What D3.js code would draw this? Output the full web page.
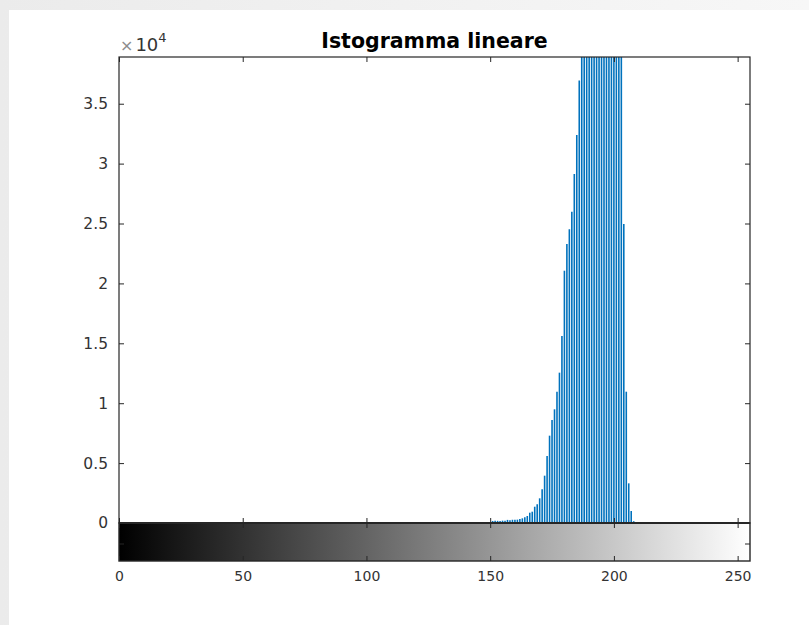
<!DOCTYPE html>
<html>
<head>
<meta charset="utf-8">
<script src="https://cdn.jsdelivr.net/npm/d3@7"></script>
<style>
  html, body { margin: 0; padding: 0; background: #fff; }
  svg { display: block; }
</style>
</head>
<body>
<svg id="chart" width="809" height="625"></svg>
<script>
// Gray-level histogram (uint8 image, 256 bins); only bins 150..208 are non-empty.
const grayLevels = d3.range(150, 209);
const pixelCounts = [
  60, 170, 190, 180, 175, 195, 185, 260, 230, 270,
  265, 280, 334, 390, 470, 584, 860, 945, 1360, 1558,
  2060, 2810, 3950, 5590, 7290, 8600, 9490, 10960, 12550, 15610,
  21060, 23290, 24520, 25990, 29130, 32390, 36930, 41500, 45800, 49600,
  52800, 55400, 57300, 58600, 59200, 59000, 58100, 56400, 54000, 51200,
  48300, 45600, 43100, 40200, 24960, 10960, 3310, 1000, 150
];
const yTicks = [0, 5000, 10000, 15000, 20000, 25000, 30000, 35000];
const xTicks = [0, 50, 100, 150, 200, 250];
const titleText = "Istogramma lineare";

const svg = d3.select("#chart");
const W = 809, H = 625;
const font = "'DejaVu Sans', sans-serif";
const axisColor = "#262626";

// figure window background
const defs = svg.append("defs");
const bg = defs.append("linearGradient").attr("id", "bg").attr("x1", 0).attr("x2", 1).attr("y1", 0).attr("y2", 0);
bg.append("stop").attr("offset", "0%").attr("stop-color", "#ebebeb");
bg.append("stop").attr("offset", "100%").attr("stop-color", "#f7f7f7");
svg.append("rect").attr("width", W).attr("height", H).attr("fill", "url(#bg)");
svg.append("rect").attr("x", 9).attr("y", 10).attr("width", W - 9).attr("height", H - 10).attr("fill", "#fff");

const plot = { left: 119, right: 750, top: 57, bottom: 523 };
const bar = { top: 523, bottom: 561 };

const x = d3.scaleLinear().domain([0, 255]).range([plot.left, plot.right]);
const y = d3.scaleLinear().domain([0, 38900]).range([plot.bottom, plot.top]);

// clip for the stems
defs.append("clipPath").attr("id", "plotClip")
  .append("rect")
  .attr("x", plot.left).attr("y", plot.top)
  .attr("width", plot.right - plot.left).attr("height", plot.bottom - plot.top);

// stems
svg.append("g").attr("clip-path", "url(#plotClip)")
  .selectAll("line")
  .data(grayLevels.map((g, i) => ({ g, c: pixelCounts[i] })))
  .join("line")
  .attr("x1", d => x(d.g)).attr("x2", d => x(d.g))
  .attr("y1", y(0)).attr("y2", d => y(d.c))
  .attr("stroke", "#0072BD")
  .attr("stroke-width", 1.6);

// y axis (left, ticks inward)
const yAxisL = svg.append("g")
  .attr("transform", `translate(${plot.left},0)`)
  .call(d3.axisLeft(y).tickValues(yTicks).tickFormat(d => d3.format("~g")(d / 1e4)).tickSize(-5).tickPadding(11));
yAxisL.select(".domain").remove();
yAxisL.selectAll("line").attr("stroke", axisColor);
yAxisL.selectAll("text").attr("fill", "#333").style("font-family", font).style("font-size", "15.5px");

// y ticks on the right side
const yAxisR = svg.append("g")
  .attr("transform", `translate(${plot.right},0)`)
  .call(d3.axisRight(y).tickValues(yTicks).tickFormat("").tickSize(-5));
yAxisR.select(".domain").remove();
yAxisR.selectAll("line").attr("stroke", axisColor);

// x ticks at top and bottom of the plot (no labels)
const xTop = svg.append("g")
  .attr("transform", `translate(0,${plot.top})`)
  .call(d3.axisTop(x).tickValues(xTicks).tickFormat("").tickSize(-5));
xTop.select(".domain").remove();
xTop.selectAll("line").attr("stroke", axisColor);
const xBot = svg.append("g")
  .attr("transform", `translate(0,${plot.bottom})`)
  .call(d3.axisBottom(x).tickValues(xTicks).tickFormat("").tickSize(-5));
xBot.select(".domain").remove();
xBot.selectAll("line").attr("stroke", axisColor);

// plot box
svg.append("rect")
  .attr("x", plot.left).attr("y", plot.top)
  .attr("width", plot.right - plot.left).attr("height", plot.bottom - plot.top)
  .attr("fill", "none").attr("stroke", axisColor).attr("stroke-width", 1.2);

// exponent label
const expo = svg.append("text")
  .attr("x", plot.left + 1).attr("y", 51)
  .style("font-family", font).style("font-size", "18px").attr("fill", "#333");
expo.append("tspan").text("\u00d7").attr("fill", "#8c8c8c").style("font-size", "16px");
expo.append("tspan").text("10").attr("dx", 2);
expo.append("tspan").text("4").attr("dy", -9).style("font-size", "13px");

// title
svg.append("text")
  .attr("x", (plot.left + plot.right) / 2).attr("y", 48)
  .attr("text-anchor", "middle")
  .style("font-family", font).style("font-size", "20.5px").style("font-weight", "bold")
  .attr("fill", "#000")
  .text(titleText);

// gray-level colour bar
const grad = defs.append("linearGradient").attr("id", "grayRamp").attr("x1", 0).attr("x2", 1).attr("y1", 0).attr("y2", 0);
grad.append("stop").attr("offset", "0%").attr("stop-color", "#000");
grad.append("stop").attr("offset", "100%").attr("stop-color", "#fff");
svg.append("rect")
  .attr("x", plot.left).attr("y", bar.top)
  .attr("width", plot.right - plot.left).attr("height", bar.bottom - bar.top)
  .attr("fill", "url(#grayRamp)");

const cbTop = svg.append("g")
  .attr("transform", `translate(0,${bar.top})`)
  .call(d3.axisTop(x).tickValues(xTicks).tickFormat("").tickSize(-5));
cbTop.select(".domain").remove();
cbTop.selectAll("line").attr("stroke", axisColor);

const cbBot = svg.append("g")
  .attr("transform", `translate(0,${bar.bottom})`)
  .call(d3.axisBottom(x).tickValues(xTicks).tickSize(-5).tickPadding(10));
cbBot.select(".domain").remove();
cbBot.selectAll("line").attr("stroke", axisColor);
cbBot.selectAll("text").attr("fill", "#333").style("font-family", font).style("font-size", "14px");

// small side ticks on the colour bar
const midY = (bar.top + bar.bottom) / 2 + 2;
svg.append("line").attr("x1", plot.left).attr("x2", plot.left + 5).attr("y1", midY).attr("y2", midY).attr("stroke", axisColor);
svg.append("line").attr("x1", plot.right - 5).attr("x2", plot.right).attr("y1", midY).attr("y2", midY).attr("stroke", axisColor);

svg.append("rect")
  .attr("x", plot.left).attr("y", bar.top)
  .attr("width", plot.right - plot.left).attr("height", bar.bottom - bar.top)
  .attr("fill", "none").attr("stroke", axisColor).attr("stroke-width", 1.4);
svg.append("line")
  .attr("x1", plot.left).attr("x2", plot.right)
  .attr("y1", plot.bottom).attr("y2", plot.bottom)
  .attr("stroke", axisColor).attr("stroke-width", 2.2);
</script>
</body>
</html>
